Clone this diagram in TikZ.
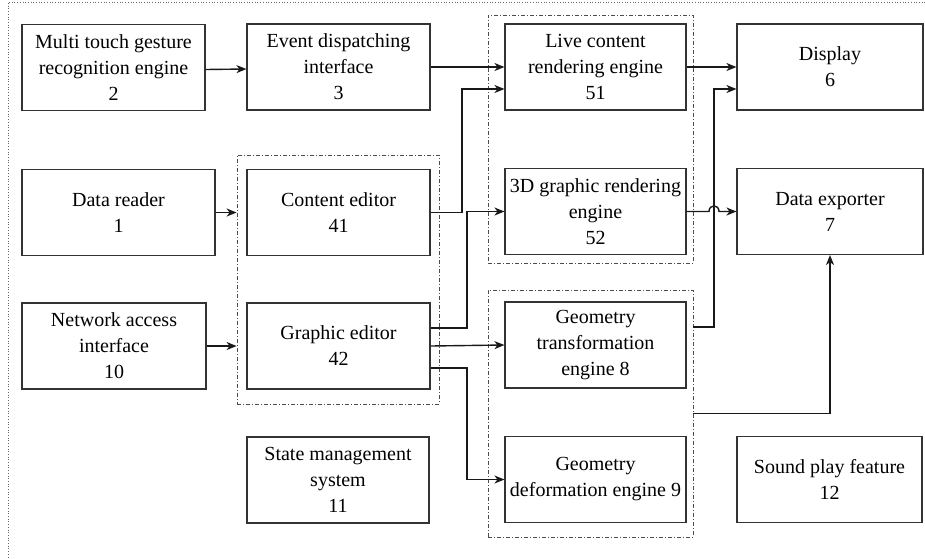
\documentclass[tikz,border=0pt]{standalone}
\usepackage{fontspec}
\setmainfont{Liberation Serif}
\usetikzlibrary{arrows.meta}
\begin{document}
\begin{tikzpicture}[x=1pt,y=-1pt,
  box/.style={draw=black!80,line width=1.1pt,align=center,inner sep=0pt,
    font=\fontsize{20}{26}\selectfont,minimum height=86pt},
  grp/.style={draw=black!70,line width=0.8pt,dash pattern=on 4pt off 2pt on 1pt off 2pt,inner sep=0pt},
  arr/.style={draw=black!90,line width=1.4pt,-{Stealth[length=10pt,width=8pt,inset=3pt]}},
  lnk/.style={draw=black!90,line width=1.4pt}]
\useasboundingbox (0,0) rectangle (925,558);
\draw[black!60,line width=0.7pt,dotted] (925,2) -- (8,2) -- (8,558);
% groups
\node[grp,minimum width=202pt,minimum height=249pt] (gE) at (338,279.5) {};
\node[grp,minimum width=205pt,minimum height=248pt] (gR) at (590.5,139) {};
\node[grp,minimum width=205pt,minimum height=247pt] (gG) at (590.5,413.5) {};
% boxes
\node[box,minimum width=183pt] (n2) at (113.5,67.5) {Multi touch gesture\\recognition engine\\2};
\node[box,minimum width=183pt] (n3) at (338.5,67) {Event dispatching\\interface\\3};
\node[box,minimum width=181pt] (n51) at (595.5,67) {Live content\\rendering engine\\51};
\node[box,minimum width=186pt] (n6) at (830,67) {Display\\6};
\node[box,minimum width=193pt] (n1) at (118.5,212.5) {Data reader\\1};
\node[box,minimum width=183pt] (n41) at (338.5,212.5) {Content editor\\41};
\node[box,minimum width=181pt] (n52) at (595.5,211.5) {3D graphic rendering\\engine\\52};
\node[box,minimum width=186pt] (n7) at (830,211.5) {Data exporter\\7};
\node[box,minimum width=184pt] (n10) at (114,346) {Network access\\interface\\10};
\node[box,minimum width=183pt] (n42) at (338.5,346) {Graphic editor\\42};
\node[box,minimum width=181pt] (n8) at (595.5,345) {Geometry\\transformation\\engine 8};
\node[box,minimum width=182pt] (n11) at (338,480) {State management\\system\\11};
\node[box,minimum width=181pt] (n9) at (595.5,479.5) {Geometry\\deformation engine 9};
\node[box,minimum width=185pt] (n12) at (829.5,479.5) {Sound play feature\\12};
% connectors
\draw[arr] ([yshift=-2pt]n2.east) -- ([yshift=-2pt]n3.west);
\draw[arr] (n3.east) -- (n51.west);
\draw[arr] (n1.east) -- (n1.east -| gE.west);
\draw[arr] (n10.east) -- (n10.east -| gE.west);
\draw[arr] (n41.east) -- (462,212.5) |- ([yshift=-22pt]n51.west);
\draw[arr] ([yshift=18pt]n42.east) -- (467,328) |- (n52.west);
\draw[arr] (n42.east) -- (n8.west);
\draw[arr] ([yshift=-22pt]n42.east) -- (467,368) |- (n9.west);
\draw[arr] (n51.east) -- (n6.west);
\draw[arr] ([yshift=18pt]n8.east -| gG.east) -- (714,327) |- ([yshift=-22pt]n6.west);
\draw[arr] (n52.east) -- (709,211.5) .. controls (709,204) and (719,204) .. (719,211.5) -- (n7.west);
\draw[arr] (gG.east) -| (n7.south);
\end{tikzpicture}
\end{document}
